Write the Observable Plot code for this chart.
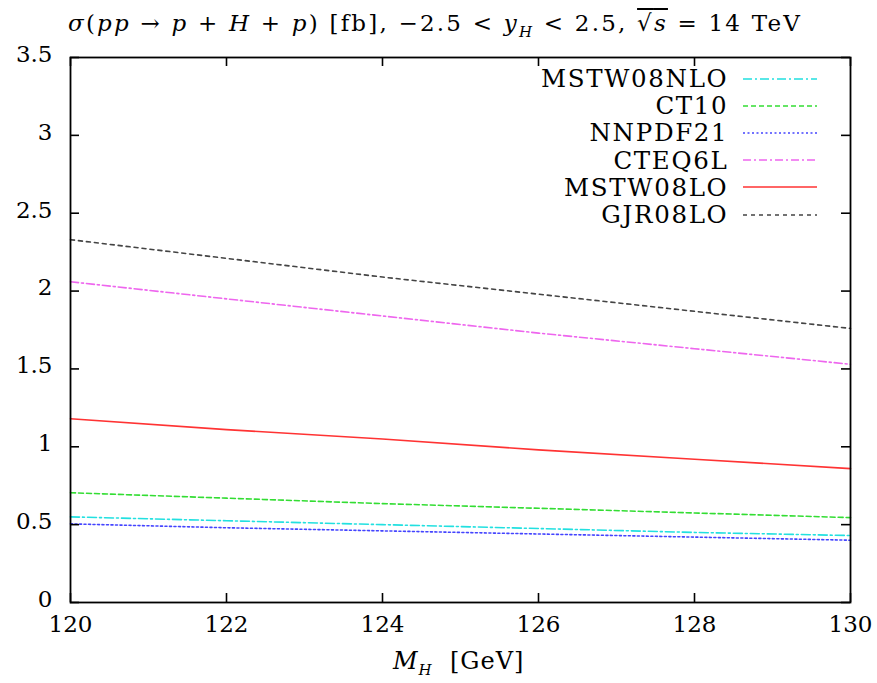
<!DOCTYPE html>
<html><head><meta charset="utf-8">
<script src="https://cdn.jsdelivr.net/npm/d3@7"></script>
<script src="https://cdn.jsdelivr.net/npm/@observablehq/plot@0.6"></script>
<style>
body{margin:0;background:#fff;}
#wrap{position:relative;width:877px;height:683px;font-family:"DejaVu Serif","Liberation Serif",serif;color:#000;}
#title{position:absolute;left:68px;top:10px;font-size:23px;white-space:nowrap;}
#xlabel{position:absolute;left:393px;top:647px;font-size:24px;white-space:nowrap;}
#legend{position:absolute;left:480px;top:65px;}
.row{display:flex;align-items:center;height:27.2px;justify-content:flex-end;}
.row span{font-size:24.5px;margin-right:16px;line-height:27px;}
sub{font-size:15px;}
</style></head>
<body><div id="wrap">
<div id="title"><i>σ</i>(<i>pp</i> → <i>p</i> + <i>H</i> + <i>p</i>) [fb], −2.5 &lt; <i>y<sub>H</sub></i> &lt; 2.5, <span style="text-decoration:overline">√<i>s</i></span> = 14 TeV</div>
<div id="chart"></div>
<div id="legend"></div>
<div id="xlabel"><i>M<sub>H</sub></i>&nbsp;&nbsp;[GeV]</div>
</div>
<script>
const masses = [120, 122, 124, 126, 128, 130];
const seriesNames = ["MSTW08NLO", "CT10", "NNPDF21", "CTEQ6L", "MSTW08LO", "GJR08LO"];
const MSTW08NLO = [0.55, 0.525, 0.50, 0.475, 0.45, 0.43];
const CT10      = [0.705, 0.67, 0.635, 0.605, 0.575, 0.545];
const NNPDF21   = [0.505, 0.48, 0.46, 0.44, 0.42, 0.40];
const CTEQ6L    = [2.06, 1.95, 1.84, 1.73, 1.63, 1.53];
const MSTW08LO  = [1.18, 1.11, 1.05, 0.98, 0.92, 0.86];
const GJR08LO   = [2.33, 2.21, 2.09, 1.98, 1.87, 1.76];
const xTicks = [120, 122, 124, 126, 128, 130];
const yTicks = [0, 0.5, 1, 1.5, 2, 2.5, 3, 3.5];
const colors = ["#22e0e0", "#33dd33", "#4444ff", "#ee66ee", "#ff3333", "#444444"];
const dashes = ["9,3,2,3", "5,3", "2,2.5", "8,3,2,3", null, "4,4"];

const allSeries = [MSTW08NLO, CT10, NNPDF21, CTEQ6L, MSTW08LO, GJR08LO];
const table = [];
allSeries.forEach((vals, i) => vals.forEach((v, j) => table.push({series: seriesNames[i], m: masses[j], v})));

const W = 877, H = 683, mT = 57, mR = 27, mB = 81, mL = 70;
const xs = (W - mL - mR) / 10, ys = (H - mT - mB) / 3.5;
const tickLenX = 9 / xs, tickLenY = 9 / ys;

const marks = [];
seriesNames.forEach((name, i) => {
  marks.push(Plot.line(table.filter(d => d.series === name), {
    x: "m", y: "v", stroke: colors[i], strokeWidth: 1.6,
    strokeDasharray: dashes[i] || undefined
  }));
});
marks.push(Plot.ruleX(xTicks, {x: d => d, y1: 0, y2: tickLenY, stroke: "#000", strokeWidth: 1.6}));
marks.push(Plot.ruleX(xTicks, {x: d => d, y1: 3.5 - tickLenY, y2: 3.5, stroke: "#000", strokeWidth: 1.6}));
marks.push(Plot.ruleY(yTicks, {y: d => d, x1: 120, x2: 120 + tickLenX, stroke: "#000", strokeWidth: 1.6}));
marks.push(Plot.ruleY(yTicks, {y: d => d, x1: 130 - tickLenX, x2: 130, stroke: "#000", strokeWidth: 1.6}));
marks.push(Plot.frame({stroke: "#000", strokeWidth: 1.8}));
marks.push(Plot.axisX(xTicks, {tickSize: 0, tickPadding: 13, fontSize: 23, label: null}));
marks.push(Plot.axisY(yTicks, {tickSize: 0, tickPadding: 18, fontSize: 23, label: null, dy: -3, tickFormat: d => String(d)}));

const plot = Plot.plot({
  width: W, height: H,
  marginTop: mT, marginRight: mR, marginBottom: mB, marginLeft: mL,
  style: {fontFamily: '"DejaVu Serif","Liberation Serif",serif', color: "#000", background: "#fff"},
  x: {domain: [120, 130]},
  y: {domain: [0, 3.5]},
  marks
});
document.getElementById("chart").appendChild(plot);

const leg = document.getElementById("legend");
const spans = [];
seriesNames.forEach((name, i) => {
  const row = document.createElement("div");
  row.className = "row";
  row.innerHTML = `<span>${name}</span><svg width="74" height="6"><line x1="0" x2="74" y1="3" y2="3" stroke="${colors[i]}" stroke-width="1.6" ${dashes[i] ? `stroke-dasharray="${dashes[i]}"` : ""}/></svg>`;
  leg.appendChild(row);
  spans.push(row.querySelector("span"));
});
const w0 = spans[0].offsetWidth;
const ls = Math.max(0, (187 - w0) / 9);
spans.forEach(s => { s.style.letterSpacing = ls + "px"; s.style.marginRight = (16 - ls) + "px"; });
leg.style.left = (817 - leg.offsetWidth) + "px";

const t = document.getElementById("title");
const tw = t.offsetWidth;
const n = t.textContent.length;
t.style.letterSpacing = Math.max(0, (734 - tw) / n) + "px";

const xl = document.getElementById("xlabel");
xl.style.letterSpacing = Math.max(0, (132 - xl.offsetWidth) / 10) + "px";
</script>
</body></html>
